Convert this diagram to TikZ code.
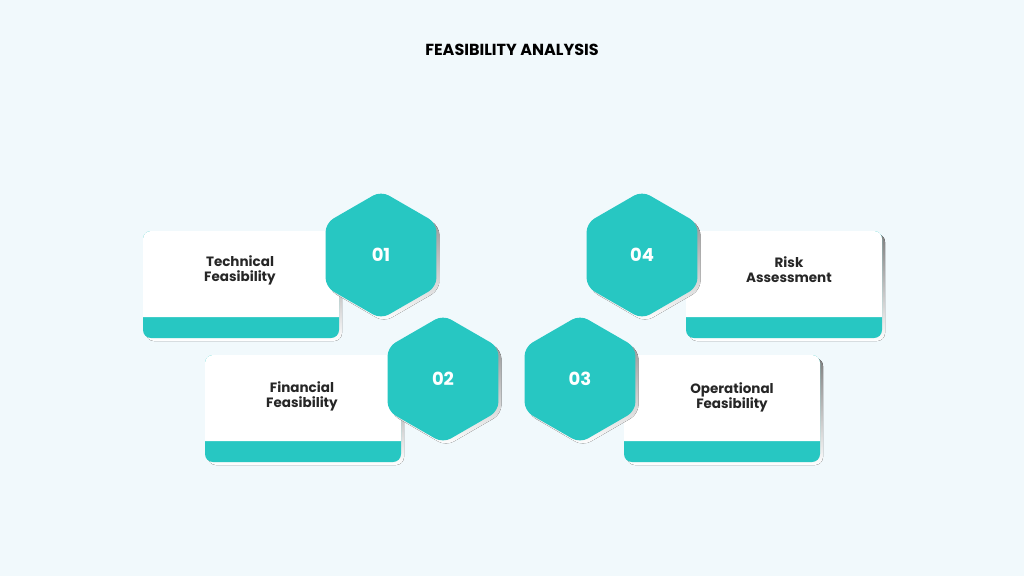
\documentclass[tikz,border=0pt]{standalone}
\usepackage{fontspec}
\setmainfont{Poppins}
\definecolor{bgblue}{HTML}{F1F9FC}
\definecolor{hexteal}{HTML}{27C7C2}
\definecolor{shade}{HTML}{D5DDE0}
\tikzset{
  cardtext/.style={align=center,font=\fontsize{13.5}{15}\selectfont\bfseries,text=black!85},
  hexnum/.style={font=\fontsize{18}{20}\selectfont\bfseries,text=white}
}
\begin{document}
\begin{tikzpicture}[x=1pt,y=-1pt]
\fill[bgblue] (0,0) rectangle (1024,576);
\useasboundingbox (0,0) rectangle (1024,576);
\node[font=\fontsize{16}{18}\selectfont\bfseries] (title) at (512,50) {FEASIBILITY ANALYSIS};
% cards
\foreach \x/\y in {143/231,205/355,624/355,686/231}{
  \fill[shade,rounded corners=8] (\x+3,\y+3) rectangle (\x+199,\y+110);
  \fill[hexteal,rounded corners=8] (\x,\y) rectangle (\x+196,\y+107);
  \fill[white] (\x,\y+86) {[rounded corners=8] -- (\x,\y) -- (\x+196,\y)} -- (\x+196,\y+86) -- cycle;
}
\node[cardtext] (tech) at (240,270) {Technical\\Feasibility};
\node[cardtext] (fin) at (302,396) {Financial\\Feasibility};
\node[cardtext] (oper) at (732,397) {Operational\\Feasibility};
\node[cardtext] (risk) at (789,270) {Risk\\Assessment};
% hexagons
\foreach \x/\y/\n in {381/255/01,443/379/02,580/379/03,642/255/04}{
  \fill[shade,rounded corners=9] (\x+3,\y+3) ++(90:-64) -- ++(30:64) -- ++(90:64) -- ++(150:64) -- ++(210:64) -- ++(270:64) -- cycle;
  \fill[hexteal,rounded corners=9] (\x,\y) ++(90:-64) -- ++(30:64) -- ++(90:64) -- ++(150:64) -- ++(210:64) -- ++(270:64) -- cycle;
  \node[hexnum] (hex\n) at (\x,\y) {\n};
}
\end{tikzpicture}
\end{document}
